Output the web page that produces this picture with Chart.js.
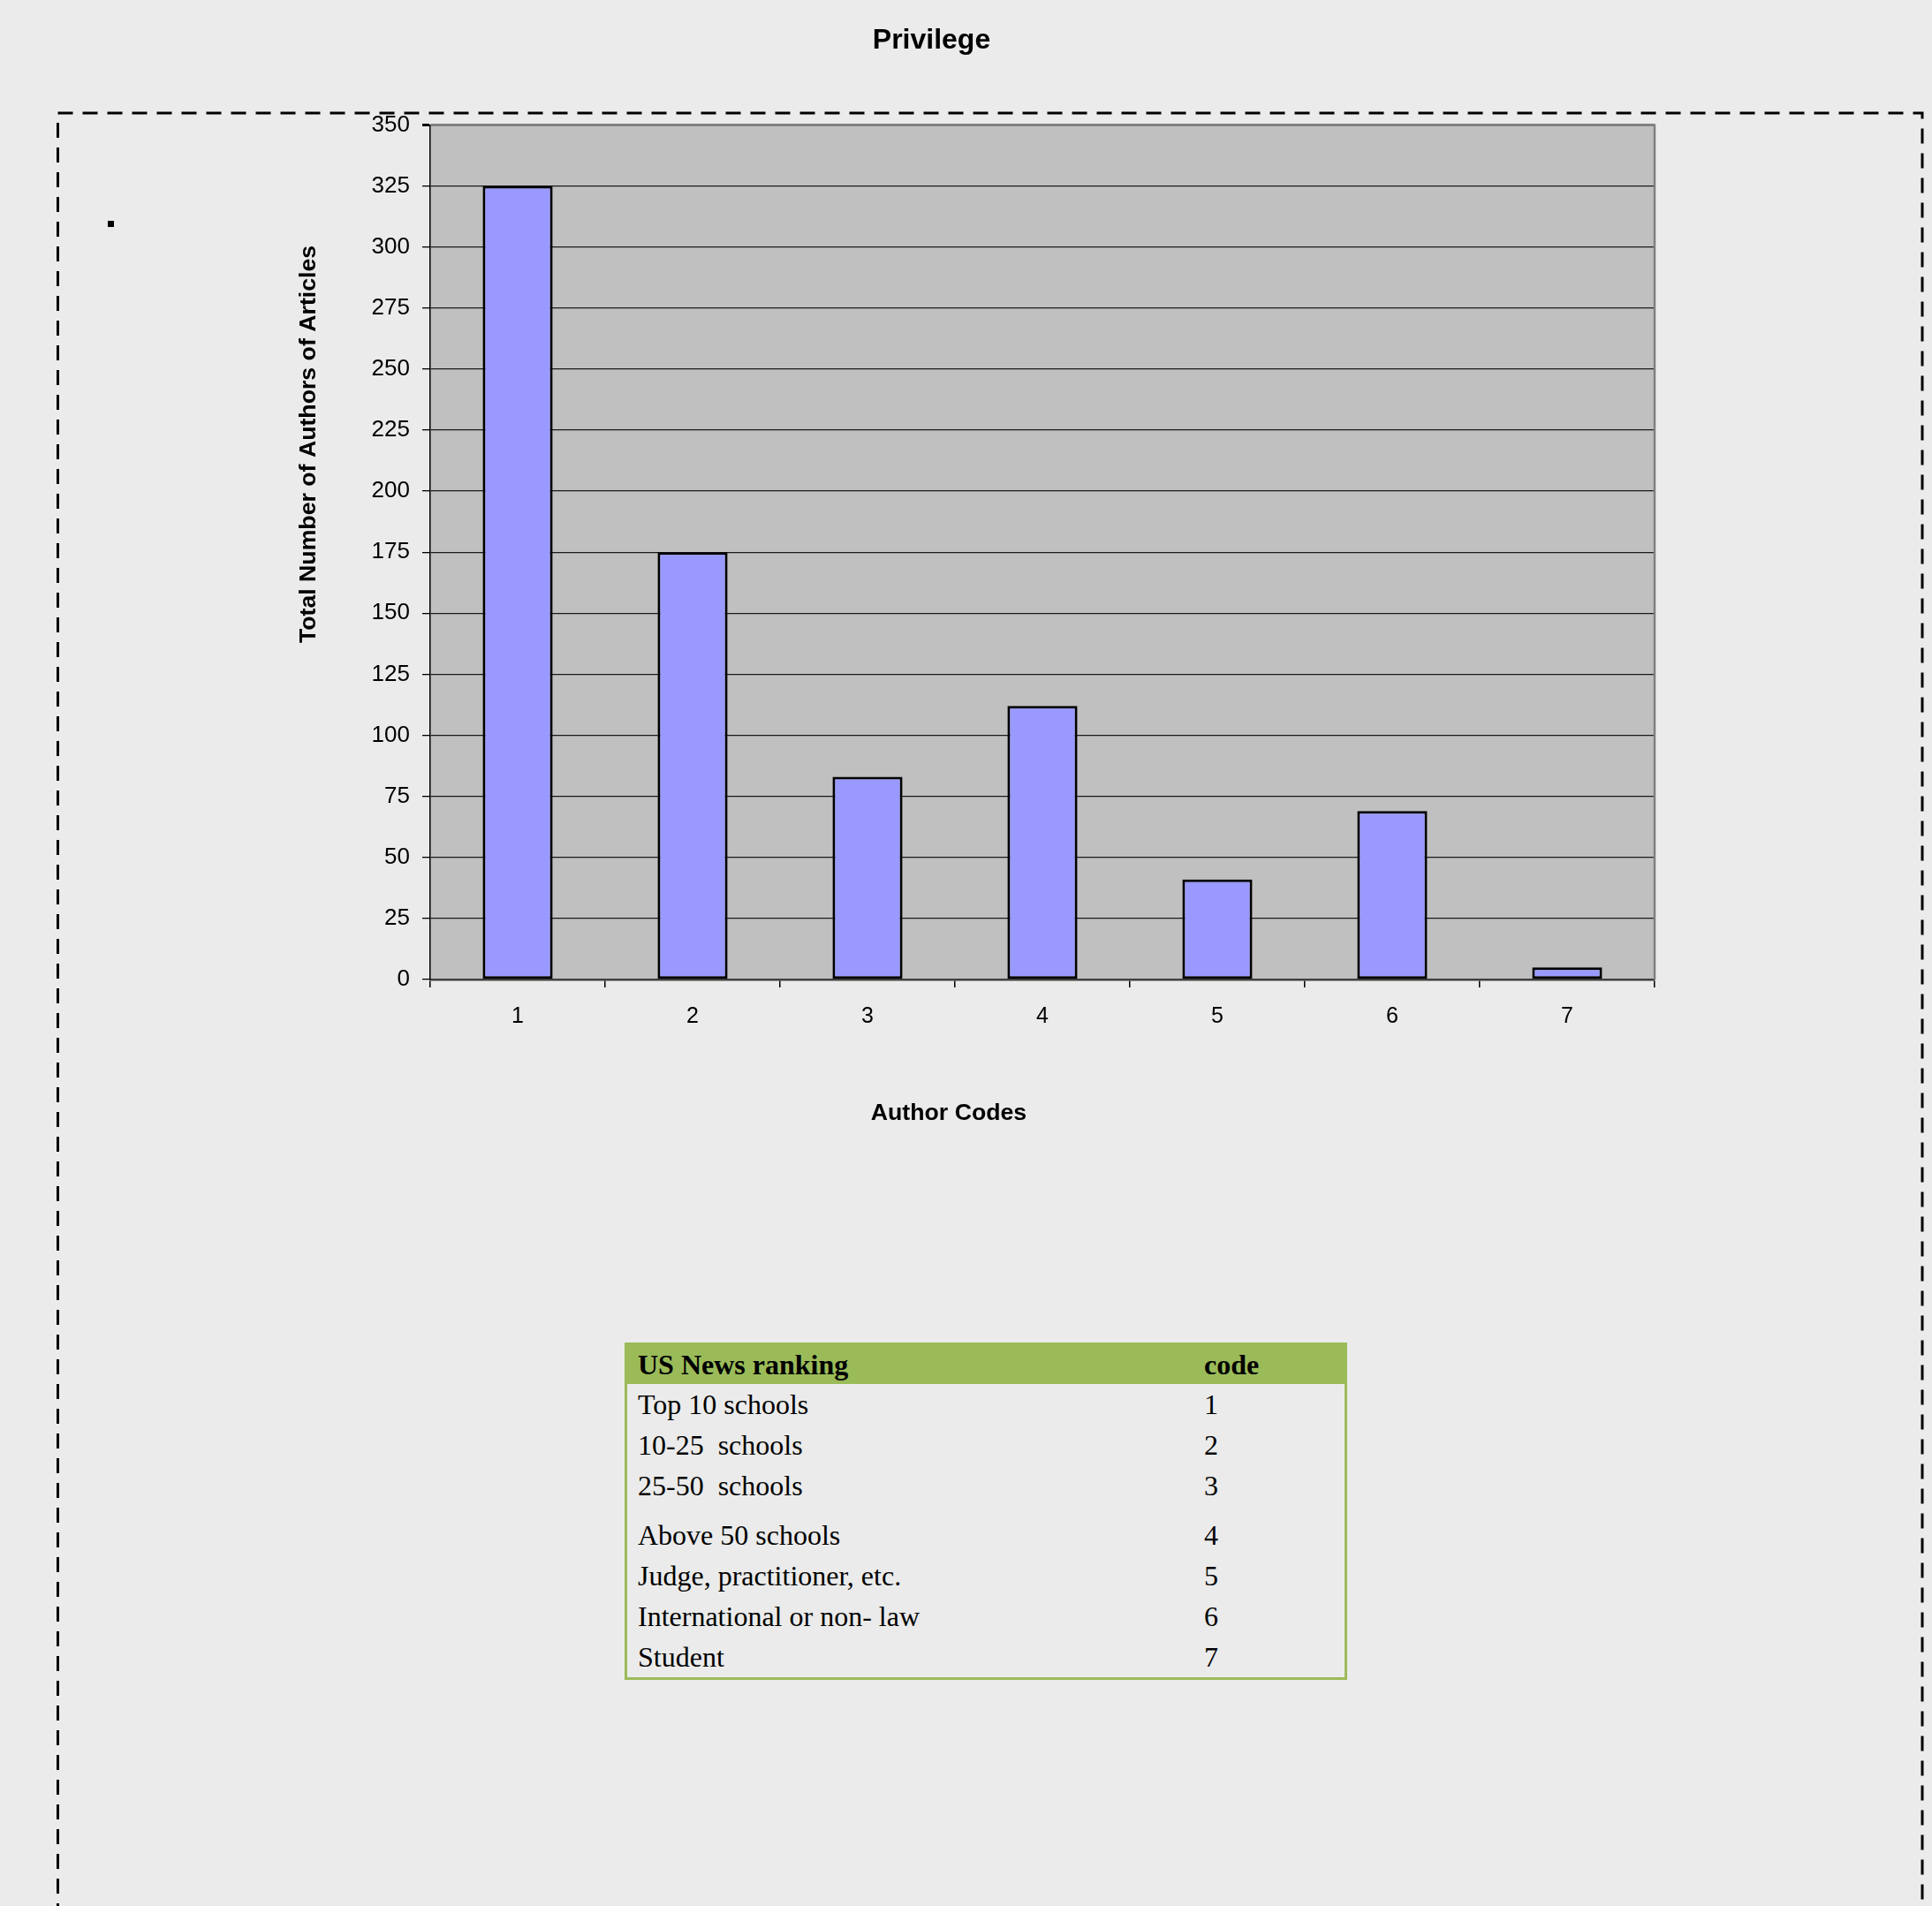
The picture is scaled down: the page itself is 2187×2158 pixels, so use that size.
<!DOCTYPE html>
<html>
<head>
<meta charset="utf-8">
<script src="https://cdn.jsdelivr.net/npm/chart.js@4.4.1/dist/chart.umd.min.js"></script>
<style>
  html, body { margin:0; padding:0; background:#EBEBEB; }
  body { width:2187px; height:2158px; position:relative; overflow:hidden; }
  #chartBox { position:absolute; left:0; top:0; width:2109px; height:1300px; }
  #frame { position:absolute; left:0; top:0; }
  #tbl { position:absolute; left:707px; top:1520px; width:812px; border:3px solid #9BBB59;
         font-family:"Liberation Serif","Times New Roman",serif; font-size:32px; color:#000; }
  .row { display:flex; height:46px; line-height:46px; }
  .row.hdr { height:44px; line-height:44px; background:#9BBB59; font-weight:bold; }
  .row.gap { height:56px; padding-top:10px; box-sizing:border-box; }
  .c1 { width:653px; padding-left:12px; box-sizing:border-box; white-space:pre; }
  .c2 { flex:1; }
</style>
</head>
<body>
<svg id="frame" width="2187" height="2158">
  <path d="M65.5 2200 L65.5 128 L2176 128 L2176 2200" fill="none" stroke="#000" stroke-width="3" stroke-dasharray="17 11"/>
  <rect x="122" y="250" width="7" height="7" fill="#000"/>
</svg>
<div id="chartBox"><canvas id="c" width="2109" height="1300"></canvas></div>
<div id="tbl"></div>
<script>
// ---- data ----
const chartTitle = 'Privilege';
const xAxisTitle = 'Author Codes';
const yAxisTitle = 'Total Number of Authors of Articles';
const categories = ['1', '2', '3', '4', '5', '6', '7'];
const authorCounts = [325, 175, 83, 112, 41, 69, 5];
const yMin = 0, yMax = 350, yStep = 25;
const tableHeader = ['US News ranking', 'code'];
const rankingLabels = ['Top 10 schools', '10-25  schools', '25-50  schools', 'Above 50 schools',
                       'Judge, practitioner, etc.', 'International or non- law', 'Student'];
const rankingCodes = ['1', '2', '3', '4', '5', '6', '7'];

// ---- table ----
const tbl = document.getElementById('tbl');
function addRow(a, b, cls) {
  const r = document.createElement('div');
  r.className = 'row' + (cls ? ' ' + cls : '');
  const c1 = document.createElement('div'); c1.className = 'c1'; c1.textContent = a;
  const c2 = document.createElement('div'); c2.className = 'c2'; c2.textContent = b;
  r.appendChild(c1); r.appendChild(c2); tbl.appendChild(r);
}
addRow(tableHeader[0], tableHeader[1], 'hdr');
rankingLabels.forEach((l, i) => addRow(l, rankingCodes[i], i === 3 ? 'gap' : ''));

// ---- chart ----
const FONT = '"Liberation Sans", Arial, sans-serif';
const decor = {
  id: 'decor',
  beforeDraw(chart) {
    const { ctx, chartArea: a } = chart;
    ctx.save();
    ctx.fillStyle = '#C0C0C0';
    ctx.fillRect(a.left, a.top, a.right - a.left, a.bottom - a.top);
    ctx.restore();
  },
  afterDraw(chart) {
    const { ctx, chartArea: a } = chart;
    ctx.save();
    ctx.strokeStyle = '#808080';
    ctx.lineWidth = 2.5;
    ctx.beginPath();
    ctx.moveTo(a.right, a.top - 1);
    ctx.lineTo(a.right, a.bottom);
    ctx.stroke();
    ctx.fillStyle = '#000';
    ctx.font = 'bold 26.7px ' + FONT;
    ctx.textAlign = 'center';
    ctx.textBaseline = 'middle';
    ctx.fillText(xAxisTitle, 1074, 1261);
    ctx.translate(350, 503);
    ctx.rotate(-Math.PI / 2);
    ctx.fillText(yAxisTitle, 0, 0);
    ctx.restore();
  }
};

new Chart(document.getElementById('c'), {
  type: 'bar',
  data: {
    labels: categories,
    datasets: [{
      data: authorCounts,
      backgroundColor: '#9999FF',
      borderColor: '#000000',
      borderWidth: 3,
      borderSkipped: false,
      barPercentage: 0.8,
      categoryPercentage: 0.5
    }]
  },
  options: {
    responsive: false,
    animation: false,
    devicePixelRatio: 1,
    layout: { padding: { left: 236, right: 236, top: 0, bottom: 0 } },
    plugins: {
      legend: { display: false },
      tooltip: { enabled: false },
      title: {
        display: true,
        text: chartTitle,
        color: '#000',
        font: { family: FONT, size: 32, weight: 'bold' },
        padding: { top: 27, bottom: 76 }
      }
    },
    scales: {
      x: {
        afterFit(scale) { scale.height = 191; },
        grid: { display: true, drawOnChartArea: false, drawTicks: true, tickLength: 9, color: '#000', lineWidth: 1.5, offset: true },
        border: { display: true, color: '#404040', width: 2.5 },
        ticks: { color: '#000', font: { family: FONT, size: 25 }, padding: 18 }
      },
      y: {
        min: yMin, max: yMax,
        afterFit(scale) { scale.width = 251; },
        ticks: { stepSize: yStep, color: '#000', font: { family: FONT, size: 26 }, padding: 14 },
        grid: {
          color: c => (c.tick && c.tick.value === yMax) ? '#808080' : '#1a1a1a',
          lineWidth: c => (c.tick && c.tick.value === yMax) ? 3 : 1.3,
          tickColor: '#000',
          tickLength: 9
        },
        border: { display: true, color: '#000', width: 1.5 }
      }
    }
  },
  plugins: [decor]
});
</script>
</body>
</html>
